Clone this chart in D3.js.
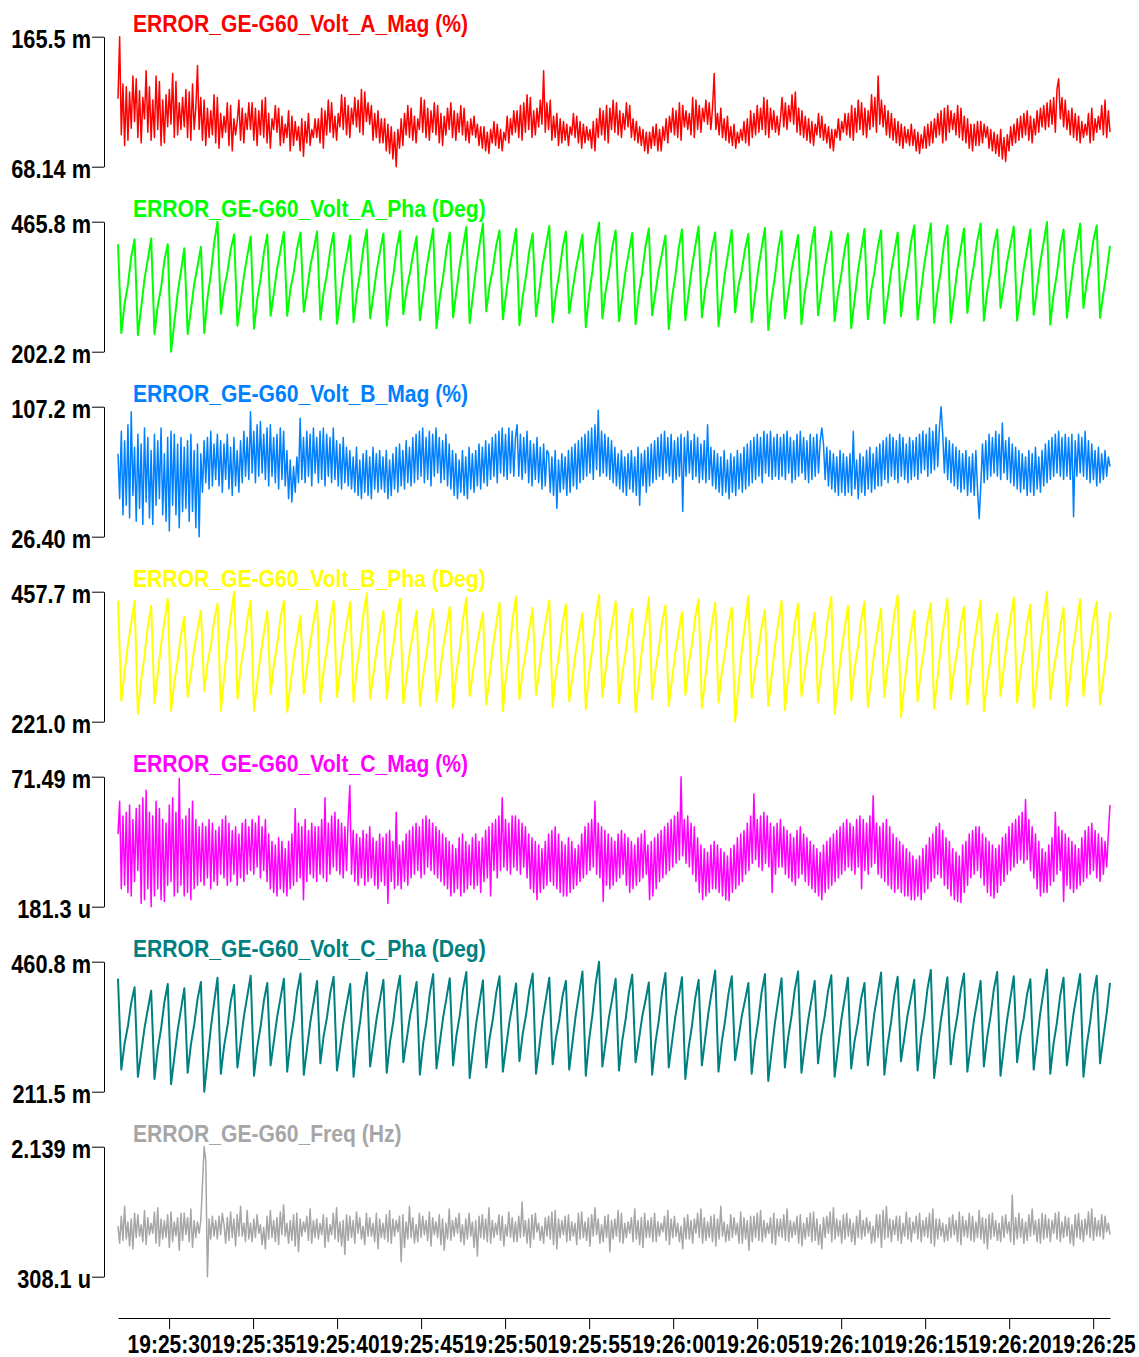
<!DOCTYPE html>
<html>
<head>
<meta charset="utf-8">
<script src="https://cdn.jsdelivr.net/npm/d3@7"></script>
<style>
  body { margin: 0; background: #fff; }
  svg text { font-family: "Liberation Sans", Arial, sans-serif; }
</style>
</head>
<body>
<svg></svg>
<script>
const width = 1139;
const height = 1357;

// time base of the recording (all channels share it)
const startTime = new Date(2020, 0, 1, 19, 25, 26, 960);
const endTime = new Date(2020, 0, 1, 19, 26, 26, 0);

const titles = [
  "ERROR_GE-G60_Volt_A_Mag (%)",
  "ERROR_GE-G60_Volt_A_Pha (Deg)",
  "ERROR_GE-G60_Volt_B_Mag (%)",
  "ERROR_GE-G60_Volt_B_Pha (Deg)",
  "ERROR_GE-G60_Volt_C_Mag (%)",
  "ERROR_GE-G60_Volt_C_Pha (Deg)",
  "ERROR_GE-G60_Freq (Hz)"
];
const colors = ["#ff0000", "#00ff00", "#0080ff", "#ffff00", "#ff00ff", "#008080", "#a6a6a6"];

// values in milli-units (m% / mDeg / mHz)
const voltAMag = [
  119,165.5,92,130,84,128,88,124,97,136,102,134,90,125,86,120,104,140,94,128,
  88,118,90,136,96,132,84,118,86,122,98,126,100,138,90,132,92,116,96,120,
  98,126,90,124,88,130,96,112,144,96,120,88,118,84,112,90,110,92,122,86,
  120,82,108,90,106,94,116,84,114,80,104,92,102,118,88,112,86,108,96,116,
  96,116,88,112,84,110,92,118,90,120,86,108,82,104,96,114,94,112,84,106,
  86,100,90,110,80,106,84,102,88,98,80,104,76,102,86,108,84,96,90,104,
  90,104,86,112,82,110,92,118,94,116,90,106,88,108,98,122,96,120,92,114,
  90,112,100,120,98,118,94,126,92,124,102,116,100,114,88,108,90,110,86,104,
  86,104,80,100,78,98,74,94,68.14,96,82,104,84,108,92,114,90,112,88,106,
  86,104,96,120,94,118,90,112,88,110,94,116,92,114,86,108,84,106,92,112,
  96,116,90,110,88,108,94,114,92,112,88,102,86,104,92,106,90,100,84,98,
  82,98,80,94,78,96,86,102,84,100,82,96,80,94,88,106,86,104,92,110,
  94,110,90,114,88,116,94,122,96,120,90,110,92,112,98,118,100,140,94,116,
  96,118,88,106,90,108,84,104,86,102,88,100,84,98,92,108,90,106,86,102,
  82,100,86,98,88,96,82,102,80,104,90,112,92,110,88,114,86,112,96,118,
  94,116,92,110,90,108,96,116,98,114,90,104,88,102,86,98,84,96,80,94,
  78,94,82,98,84,100,80,96,80,98,88,104,86,106,94,112,92,110,90,116,
  88,114,98,110,96,108,92,120,90,118,96,114,94,112,102,118,100,116,96,112,
  138,96,108,92,112,90,104,88,106,86,98,84,100,82,94,86,96,88,102,86,
  104,84,110,90,108,92,114,94,112,96,120,92,118,90,112,96,110,94,106,92,
  104,120,98,116,96,114,102,122,100,124,94,112,92,110,90,106,88,104,86,102,
  84,100,92,108,90,106,88,100,86,98,82,96,80,96,90,104,88,102,94,108,
  92,108,90,114,88,112,94,118,96,116,92,112,90,110,96,122,98,120,94,136,
  100,118,98,114,92,110,90,108,88,104,86,102,84,100,82,98,86,96,84,100,
  84,96,80,94,78,92,82,98,82,100,84,102,86,104,90,108,92,110,86,112,
  88,114,94,110,96,108,92,114,90,112,88,106,86,104,82,100,80,100,84,102,
  84,102,86,100,90,98,82,96,80,94,78,92,76,96,74,90,72,92,80,98,
  84,100,86,104,88,106,90,108,92,110,88,106,86,104,92,110,94,112,98,114,
  96,116,98,118,100,120,94,126,134,104,120,98,118,96,110,92,112,90,108,88,
  106,86,102,90,100,92,108,86,112,88,104,94,106,96,114,92,118,90,110,94
];

const voltAPha = [
  420,240,300,338,395, 430,236,292,350,390, 432,238,296,332,388, 420,202.2,262,322,366,
  412,238,288,340,376, 415,240,312,360,424, 465.8,279,330,364,410, 440,255,306,358,398,
  436,249,310,350,404, 440,275,322,372,408, 445,275,330,364,412, 444,283,328,376,410,
  446,267,324,360,410, 443,259,310,360,398, 438,262,322,362,414, 450,270,318,368,406,
  442,255,316,358,412, 447,278,328,362,402, 436,266,318,372,412, 452,250,312,354,408,
  444,272,324,376,416, 455,260,318,374,420, 462,284,336,370,418, 448,268,320,372,410,
  451,256,314,356,408, 442,274,326,378,418, 457,262,320,360,412, 446,280,326,370,404,
  440,252,318,366,425, 464,270,326,364,414, 448,264,314,366,404, 443,258,320,362,416,
  452,276,322,368,402, 438,248,312,356,412, 450,266,320,374,416, 456,272,328,364,412,
  444,254,310,364,406, 449,282,334,366,410, 441,262,316,370,412, 453,246,310,354,410,
  447,270,318,366,402, 439,258,320,362,418, 455,276,324,372,410, 446,264,320,358,408,
  442,250,306,364,408, 451,268,326,364,414, 448,260,312,364,404, 444,274,332,372,424,
  458,267,322,378,420, 462,261,324,366,422, 458,261,314,370,410, 452,281,338,378,428,
  462,265,324,364,416, 450,291,336,384,420, 456,265,318,370,410, 450,277,330,384,424,
  465,257,318,360,414, 450,271,326,380,420, 462,291,344,380,428, 458,271,320,365,417
];

const voltBMag = [
  78,50,92,40,86,46,96,38,104,52,82,36,90,44,84,34,94,48,88,38,
  80,34,90,46,86,50,94,40,78,36,88,30,92,46,90,40,84,32,88,42,
  82,44,86,36,90,42,80,32,84,26.4,78,54,86,60,88,56,92,58,84,62,
  90,58,86,54,84,62,90,56,82,52,88,58,80,54,86,60,92,64,88,62,
  104,66,92,60,96,64,98,66,90,62,94,58,96,64,88,60,90,56,94,62,
  92,58,80,50,74,48,70,54,76,60,100,62,88,60,92,64,90,58,94,66,
  88,60,92,62,94,58,90,64,88,60,94,62,86,58,84,56,88,60,82,58,
  80,56,76,54,82,52,74,50,78,54,80,52,76,50,82,56,78,54,80,56,
  76,54,80,50,74,52,78,56,82,54,84,58,80,56,86,60,82,58,88,60,
  90,62,92,64,94,60,88,62,92,58,90,64,94,66,88,60,86,62,90,58,
  84,56,80,52,78,50,74,54,80,52,76,50,82,56,78,54,80,58,84,56,
  82,60,86,58,84,62,88,64,90,60,92,66,94,64,90,62,94,66,92,64,
  88,96,64,90,62,88,66,92,60,86,58,84,62,88,60,82,56,84,58,80,
  78,54,76,52,80,44,74,54,78,56,76,52,80,54,82,58,84,56,86,60,
  88,62,90,64,92,66,94,62,96,68,105,64,92,66,90,64,88,62,86,60,
  82,58,78,56,80,54,76,52,78,56,80,54,76,52,82,46,78,58,80,54,
  82,58,84,60,86,62,88,64,90,62,92,66,88,64,90,60,86,62,88,64,
  90,42,88,64,92,66,86,62,90,64,88,60,84,62,86,60,96,62,82,58,
  80,56,78,54,76,52,80,54,74,50,78,54,76,52,80,56,78,54,82,56,
  84,58,86,60,88,62,90,64,88,60,92,66,90,64,92,62,88,64,90,62,
  88,64,90,62,92,66,88,60,86,62,90,64,92,66,88,62,86,60,90,62,
  88,64,90,66,86,94,84,62,82,58,80,56,78,54,76,52,80,54,78,52,
  76,54,78,52,92,56,74,50,78,54,76,52,80,56,82,54,78,56,82,58,
  84,58,86,62,88,60,90,64,88,62,86,60,90,64,88,62,84,60,88,62,
  86,64,88,62,90,66,92,68,90,64,94,66,92,68,96,70,94,107.2,90,66,
  88,62,86,60,84,58,82,56,80,54,78,56,80,52,76,54,78,52,80,56,
  37.6,58,84,60,86,62,90,64,88,66,92,64,90,62,97,66,86,62,88,60,
  84,58,82,56,80,54,78,56,76,52,80,54,78,52,82,56,76,54,80,58,
  84,60,86,62,88,64,90,66,92,64,88,62,90,64,88,62,90,38.8,86,64,
  90,66,88,64,92,62,86,60,84,62,80,58,82,60,78,62,80,64,76,70
];

const voltBPha = [
  441,259,312,362,402, 441,235,298,340,396, 432,254,308,362,404, 445,241,295,332,380,
  412,266,310,355,390, 423,277,328,360,406, 436,241,302,364,412, 457.7,263,320,358,408,
  441,241,294,344,384, 423,272,326,362,410, 441,239,290,338,376, 414,272,320,368,404,
  441,257,315,355,406, 441,266,316,364,402, 439,257,320,362,418, 455,263,308,354,388,
  423,263,320,360,412, 445,254,302,350,386, 423,250,306,344,394, 426,258,308,356,392,
  430,246,310,352,408, 446,268,312,355,388, 420,252,305,358,398, 438,240,306,352,410,
  449,262,315,350,392, 428,270,318,368,405, 442,248,307,348,400, 435,258,304,349,384,
  418,244,310,355,413, 452,266,315,365,402, 440,254,309,346,395, 426,238,298,356,402,
  447,262,316,353,402, 433,250,298,347,384, 421,270,325,362,412, 444,246,300,355,398,
  438,256,311,348,396, 429,221.0,286,350,400, 450,264,315,349,394, 424,250,304,358,400,
  441,242,303,346,400, 436,268,310,354,386, 419,256,317,359,412, 448,236,292,347,390,
  432,260,317,356,406, 440,248,299,349,388, 427,266,325,365,416, 451,230,285,339,382,
  423,258,315,353,404, 437,244,301,358,402, 445,262,315,351,398, 430,252,306,360,401,
  442,240,296,335,385, 418,268,319,369,408, 447,256,312,351,400, 434,246,306,365,412,
  457,262,315,350,392, 428,250,305,360,402, 444,268,322,359,408, 439,252,302,350,420
];

const voltCMag = [
  40,58,10,50,12,52,8,56,6,48,14,54,20,56,2,60,4,64,10,52,
  0.1813,50,6,58,10,54,4,48,3,46,12,56,14,60,6,52,8,70.5,12,48,
  6,50,8,54,4,58,10,48,12,44,14,46,12,44,16,48,10,46,14,42,
  12,44,18,48,16,50,12,46,14,42,18,44,12,40,16,46,14,48,18,44,
  20,48,18,46,22,50,16,44,20,48,14,40,10,36,8,34,6,38,10,36,
  8,32,6,36,10,40,12,54,14,46,16,44,4,48,14,42,18,46,16,44,
  14,44,18,48,16,60,14,46,18,50,22,52,20,48,18,46,16,44,20,48,
  66.6,18,42,14,40,12,38,16,42,12,40,14,44,16,38,12,36,10,40,14,
  38,12,40,2,42,14,36,10,52,12,34,10,36,14,40,12,42,16,44,18,
  46,20,44,16,48,18,50,22,48,20,46,18,44,16,42,14,40,12,38,10,
  36,6,34,8,32,10,38,6,40,8,36,10,34,12,38,10,40,12,36,8,
  38,14,42,16,44,6,46,20,48,16,50,20,60,22,48,20,46,18,50,22,
  50,20,48,18,46,22,44,16,40,10,38,8,36,4,34,8,32,10,36,12,
  40,14,42,12,44,10,40,8,36,6,34,6,38,8,36,10,32,12,34,14,
  40,16,44,18,46,20,48,22,58,18,46,16,44,3,42,12,40,10,38,12,
  36,14,40,16,42,18,40,12,38,8,36,10,34,12,38,14,40,16,42,18,
  34,4,36,6,38,10,40,14,42,16,44,18,46,20,48,22,50,24,52,26,
  71.49,28,48,24,50,22,46,18,44,14,38,8,34,4,32,6,30,8,34,10,
  36,10,34,8,32,6,30,4,28,3.5,32,8,34,10,38,12,40,14,42,18,
  46,20,50,24,62,26,48,22,50,20,52,24,50,22,46,8,44,18,46,22,
  48,22,44,18,42,16,40,14,38,12,42,16,44,18,40,14,38,12,36,10,
  34,8,32,6,30,4,34,8,36,10,38,12,40,14,42,16,44,18,46,20,
  48,22,46,20,44,18,48,22,50,10,48,20,46,18,50,22,61,24,46,18,
  44,16,46,14,48,12,44,10,40,8,38,10,36,8,34,6,32,6,30,4,
  28,4,26,6,28,4,32,8,34,10,38,14,40,16,44,18,46,16,42,12,
  38,10,36,6,32,4,30,3,28,2.5,34,8,36,12,40,16,42,18,44,20,
  44,16,40,12,38,8,36,6,34,5,32,8,34,12,38,14,40,18,44,20,
  46,22,48,24,50,26,52,24,59,26,48,20,44,16,40,10,36,6,32,8,
  30,8,34,12,38,14,52,18,44,20,42,3,40,12,38,10,36,8,34,10,
  32,12,38,14,42,16,44,18,46,20,42,16,40,14,38,18,36,22,40,56
];

const voltCPha = [
  428,254,304,338,382, 412,240,287,334,370, 405,236,294,333,384, 418,226,278,330,370,
  410,248,303,341,390, 422,211.5,274,335,384, 430,246,300,337,385, 416,258,308,358,396,
  434,242,298,337,387, 420,262,309,356,392, 428,250,309,350,403, 438,244,295,346,385,
  424,266,319,354,402, 432,252,299,346,382, 418,240,303,347,403, 440,260,307,354,390,
  426,248,307,347,400, 434,268,311,356,388, 422,244,305,347,401, 437,256,305,354,391,
  429,262,319,357,408, 441,238,291,344,385, 425,258,314,351,401, 433,250,298,346,382,
  419,270,323,359,407, 438,246,298,350,390, 430,264,315,349,395, 424,254,307,360,401,
  442,242,311,359,420, 460.8,260,307,355,391, 428,252,310,350,402, 436,268,311,355,387,
  421,244,306,348,403, 439,258,307,356,393, 431,236,296,338,391, 426,262,314,365,405,
  444,250,308,348,399, 433,272,313,356,387, 420,246,306,348,402, 437,232,288,343,387,
  429,258,316,356,408, 442,248,298,348,386, 424,266,320,356,404, 435,240,294,348,389,
  430,256,308,343,390, 420,262,312,363,401, 440,244,303,344,397, 432,270,314,359,392,
  426,252,313,355,409, 445,238,293,347,389, 431,264,319,357,406, 438,250,299,349,386,
  424,260,317,357,408, 441,242,296,350,392, 433,268,319,352,398, 427,254,309,363,405,
  446,246,304,344,396, 430,262,312,361,399, 437,240,301,344,398, 434,266,315,362,420
];

const freq = [
  1.02,0.78,1.16,0.82,1.30,0.84,1.08,0.74,1.12,0.70,1.20,0.86,1.18,0.88,1.04,0.80,1.24,0.76,1.14,0.90,
  1.06,0.92,1.22,0.78,1.28,0.74,1.12,0.84,1.10,0.86,1.18,0.72,1.22,0.80,1.08,0.88,1.14,0.68,1.20,0.82,
  1.20,0.90,1.14,0.80,1.26,0.72,1.10,0.86,1.08,0.92,1.10,1.60,2.139,1.95,0.3081,1.12,0.84,1.16,0.88,1.10,
  0.84,1.16,0.90,1.20,1.04,0.78,1.14,0.82,1.22,0.86,1.12,0.74,1.18,0.88,1.30,0.88,1.06,0.80,1.24,0.84,
  1.06,0.80,1.12,0.86,1.18,0.92,1.04,0.76,1.00,0.70,1.16,0.84,1.24,0.86,1.10,0.80,1.14,0.76,1.22,0.90,
  1.32,0.88,1.06,0.78,1.10,0.82,1.18,0.74,1.20,0.66,1.12,0.88,1.08,0.94,1.16,0.82,1.26,0.78,1.10,0.86,
  1.12,0.84,1.06,0.90,1.18,0.72,1.14,0.80,1.04,0.90,1.20,0.84,1.28,0.80,1.08,0.74,1.10,0.62,1.18,0.82,
  1.16,0.86,1.10,0.78,1.22,0.92,1.14,0.84,1.02,0.76,1.20,0.88,1.14,0.88,1.06,0.80,1.20,0.70,1.12,0.86,
  1.06,0.84,1.18,0.80,1.24,0.78,1.12,0.88,1.10,0.94,1.16,0.52,1.18,0.72,1.08,0.84,1.30,0.86,1.14,0.78,
  1.04,0.80,1.20,0.86,1.16,0.90,1.10,0.82,1.22,0.74,1.14,0.90,1.08,0.86,1.18,0.76,1.12,0.68,1.06,0.84,
  1.26,0.82,1.10,0.88,1.14,0.92,1.20,0.80,1.04,0.76,1.12,0.84,1.20,0.88,1.08,0.72,1.10,0.60,1.16,0.86,
  1.18,0.84,1.12,0.80,1.28,0.78,1.10,0.86,1.06,0.90,1.18,0.82,1.16,0.74,1.04,0.88,1.22,0.86,1.14,0.80,
  1.08,0.80,1.16,0.86,1.36,0.88,1.10,0.78,1.12,0.72,1.18,0.84,1.20,0.94,1.06,0.82,1.02,0.78,1.14,0.88,
  1.16,0.84,1.22,0.76,1.24,0.70,1.12,0.86,1.10,0.90,1.16,0.80,1.18,0.82,1.08,0.88,1.06,0.76,1.20,0.84,
  1.22,0.86,1.08,0.82,1.14,0.74,1.18,0.88,1.28,0.90,1.12,0.78,1.04,0.80,1.16,0.86,1.18,0.66,1.10,0.84,
  1.12,0.88,1.24,0.80,1.20,0.78,1.06,0.86,1.08,0.92,1.14,0.80,1.26,0.84,1.10,0.76,1.14,0.72,1.20,0.86,
  1.10,0.86,1.14,0.80,1.20,0.80,1.08,0.88,1.06,0.94,1.16,0.82,1.24,0.76,1.12,0.86,1.16,0.88,1.06,0.80,
  1.02,0.70,1.14,0.84,1.18,0.84,1.10,0.78,1.12,0.92,1.20,0.86,1.26,0.78,1.14,0.82,1.08,0.86,1.16,0.80,
  1.18,0.74,1.12,0.84,1.30,0.88,1.08,0.80,1.04,0.82,1.18,0.86,1.14,0.90,1.06,0.78,1.22,0.78,1.14,0.84,
  1.10,0.68,1.16,0.80,1.16,0.86,1.20,0.82,1.24,0.80,1.10,0.86,1.06,0.92,1.14,0.78,1.20,0.76,1.12,0.88,
  1.12,0.86,1.18,0.82,1.26,0.80,1.10,0.86,1.08,0.90,1.16,0.78,1.18,0.74,1.06,0.84,1.14,0.88,1.20,0.80,
  1.22,0.82,1.12,0.76,1.04,0.70,1.14,0.86,1.16,0.92,1.22,0.80,1.28,0.84,1.12,0.88,1.10,0.78,1.18,0.84,
  1.20,0.88,1.12,0.80,1.06,0.76,1.16,0.86,1.24,0.84,1.10,0.88,1.14,0.92,1.08,0.78,1.02,0.80,1.18,0.86,
  1.18,0.72,1.24,0.84,1.30,0.86,1.12,0.80,1.10,0.90,1.16,0.82,1.16,0.78,1.06,0.88,1.22,0.84,1.14,0.80,
  1.08,0.92,1.16,0.84,1.20,0.80,1.10,0.88,1.14,0.86,1.20,0.78,1.26,0.74,1.12,0.84,1.12,0.88,1.06,0.80,
  1.04,0.82,1.14,0.86,1.18,0.90,1.10,0.80,1.22,0.76,1.16,0.88,1.10,0.86,1.20,0.82,1.16,0.80,1.08,0.86,
  1.24,0.84,1.14,0.78,1.12,0.70,1.18,0.84,1.20,0.88,1.10,0.82,1.06,0.80,1.16,0.86,1.18,0.92,1.08,0.80,
  1.46,0.76,1.14,0.84,1.20,0.86,1.12,0.78,1.08,0.82,1.18,0.88,1.26,0.90,1.10,0.80,1.12,0.78,1.20,0.84,
  1.18,0.86,1.12,0.80,1.10,0.92,1.20,0.84,1.22,0.80,1.08,0.86,1.16,0.88,1.14,0.78,1.04,0.74,1.18,0.86,
  1.20,0.84,1.10,0.80,1.12,0.90,1.22,0.86,1.26,0.82,1.14,0.88,1.10,0.88,1.18,0.84,1.16,0.94,1.06,0.90
];

const series = [voltAMag, voltAPha, voltBMag, voltBPha, voltCMag, voltCPha, freq];
const isPhase = [false, true, false, true, false, true, false];

const svg = d3.select('svg').attr('width', width).attr('height', height);

const x = d3.scaleTime().domain([startTime, endTime]).range([118, 1110]);

// "165.5 m", "181.3 u"
const siFormat = d3.format('.4s');
function tickFmt(v) {
  const s = siFormat(v * 1e-3).replace('µ', 'u');
  return s.replace(/([0-9.]+)(.*)/, '$1 $2');
}

series.forEach((vals, k) => {
  const top = 36.7 + k * 185;
  const bottom = top + 130;
  const ext = d3.extent(vals);
  const y = d3.scaleLinear().domain(ext).range([bottom, top]);
  const step = (endTime - startTime) / (vals.length - 1);

  const line = d3.line()
    .x((d, i) => x(new Date(+startTime + i * step)))
    .y(d => y(d));

  svg.append('path')
    .datum(vals)
    .attr('d', line)
    .style('fill', 'none')
    .style('stroke', colors[k])
    .style('stroke-width', isPhase[k] ? 2 : 1.5)
    .style('stroke-linejoin', 'round');

  const ax = svg.append('g')
    .attr('transform', 'translate(104,0)')
    .call(d3.axisLeft(y).tickValues(ext).tickSize(12).tickSizeOuter(0).tickFormat(tickFmt));
  ax.select('.domain').attr('stroke', '#000');
  ax.selectAll('.tick line').attr('stroke', '#000');
  ax.selectAll('.tick text')
    .attr('fill', '#000')
    .style('font-size', '25px')
    .style('font-weight', 'bold')
    .attr('x', -13 / 0.87)
    .attr('dy', '0.44em')
    .attr('transform', 'scale(0.87,1)');

  svg.append('text')
    .attr('transform', `translate(133,${top - 4.5}) scale(0.88,1)`)
    .text(titles[k])
    .style('fill', colors[k])
    .style('font-size', '24px')
    .style('font-weight', 'bold');
});

const xAx = svg.append('g')
  .attr('transform', 'translate(0,1318)')
  .call(d3.axisBottom(x)
    .ticks(d3.timeSecond.every(5))
    .tickSize(11)
    .tickSizeOuter(0)
    .tickFormat(d3.timeFormat('%H:%M:%S')));
xAx.select('.domain').attr('stroke', '#000');
xAx.selectAll('.tick line').attr('stroke', '#000');
xAx.selectAll('.tick text')
  .attr('fill', '#000')
  .attr('y', 35)
  .attr('dy', 0)
  .style('font-size', '25px')
  .style('font-weight', 'bold')
  .attr('transform', 'scale(0.84,1)');
</script>
</body>
</html>
